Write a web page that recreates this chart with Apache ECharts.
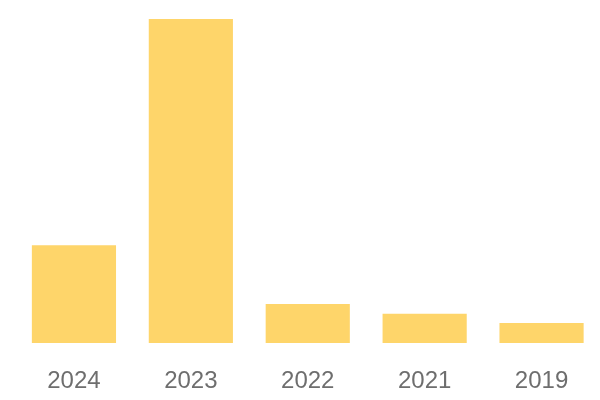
<!DOCTYPE html>
<html>
<head>
<meta charset="utf-8">
<script src="https://cdn.jsdelivr.net/npm/echarts@6/dist/echarts.min.js"></script>
<style>
  html, body { margin: 0; padding: 0; background: #fff; }
  #chart { width: 600px; height: 400px; }
</style>
</head>
<body>
<div id="chart"></div>
<script>
// categories and values (relative bar heights)
const years = ['2024', '2023', '2022', '2021', '2019'];
const values = [30.2, 100, 12, 9, 6.2];

const myChart = echarts.init(document.getElementById('chart'));

const option = {
  animation: false,
  grid: { left: 15.5, right: 0, top: 19, bottom: 57, containLabel: false },
  xAxis: {
    type: 'category',
    data: years,
    axisLine: { show: false },
    axisTick: { show: false },
    axisLabel: {
      color: '#6e6e6e',
      fontSize: 24,
      fontFamily: 'Liberation Sans',
      margin: 26
    }
  },
  yAxis: {
    type: 'value',
    min: 0,
    max: 100,
    show: false
  },
  series: [{
    type: 'bar',
    data: values,
    barWidth: '72%',
    itemStyle: { color: '#fed56a' }
  }]
};

myChart.setOption(option);
</script>
</body>
</html>
